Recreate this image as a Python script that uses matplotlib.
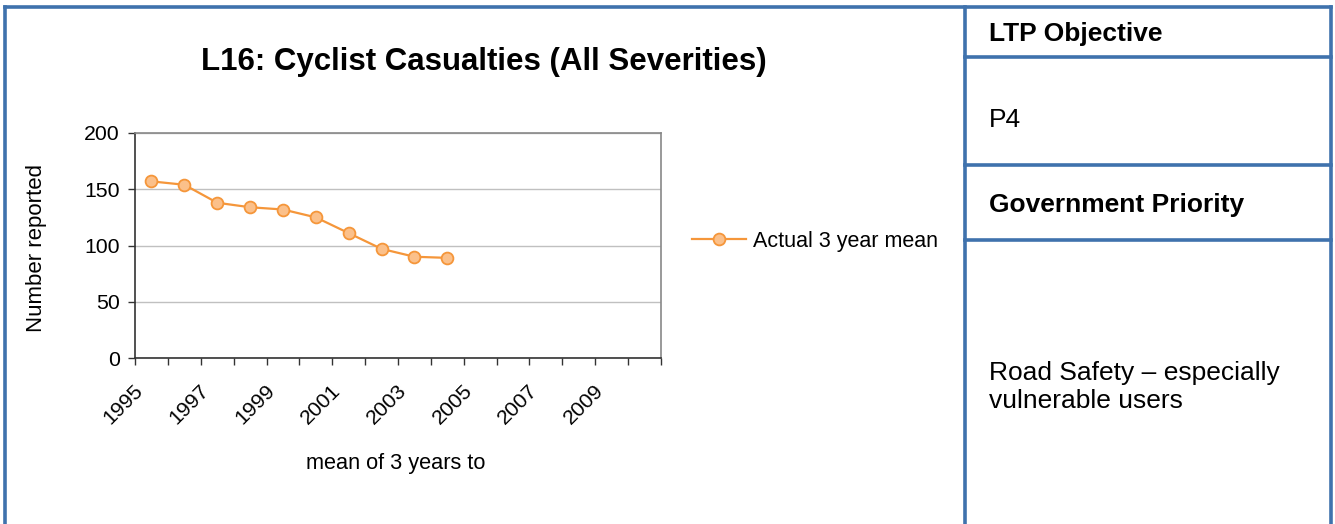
import numpy as np
import matplotlib
matplotlib.use("Agg")
import matplotlib.pyplot as plt
from matplotlib.lines import Line2D
from matplotlib.transforms import ScaledTranslation

plt.rcParams['font.family'] = ['Liberation Sans', 'DejaVu Sans']

# categories on the x axis (mean of 3 years to ...)
years = [str(y) for y in range(1995, 2011)]
label_years = ['1995', '1997', '1999', '2001', '2003', '2005', '2007', '2009']
actual_mean = [157, 154, 138, 134, 132, 125, 111, 97, 90, 89]
y_ticks = [0, 50, 100, 150, 200]

title = "L16: Cyclist Casualties (All Severities)"
ltp_head = "LTP Objective"
ltp_value = "P4"
gov_head = "Government Priority"
gov_value = "Road Safety \u2013 especially\nvulnerable users"

W, H = 1335, 524
BLUE = '#3f72ad'
ORANGE = '#f5963a'
ORANGE_FILL = '#fbc08a'
FS = 15.3


def fx(px):
    return px / W


def fy(py):
    return 1 - py / H


fig = plt.figure(figsize=(W / 100, H / 100), dpi=100)

# frame lines of the table layout
for (x0, y0, x1, y1) in [(5, 7, 1331, 7), (5, 7, 5, 524), (1331, 7, 1331, 524),
                         (965, 7, 965, 524), (965, 57, 1331, 57),
                         (965, 165, 1331, 165), (965, 240, 1331, 240)]:
    fig.add_artist(Line2D([fx(x0), fx(x1)], [fy(y0), fy(y1)], color=BLUE, lw=2.6,
                          solid_capstyle='projecting'))

fig.text(fx(484), fy(62), title, ha='center', va='center', fontsize=22.5, fontweight='bold')

ax = fig.add_axes([fx(135), fy(358), fx(661 - 135), (358 - 133) / H])
idx = np.arange(len(actual_mean)) + 0.5
ax.plot(idx, actual_mean, color=ORANGE, lw=1.6, marker='o', markersize=8.5,
        markerfacecolor=ORANGE_FILL, markeredgecolor=ORANGE, markeredgewidth=1.3,
        label='Actual 3 year mean')

ax.set_xlim(0, len(years))
ax.set_ylim(0, 200)
ax.set_yticks(y_ticks)
ax.set_yticklabels([str(v) for v in y_ticks], fontsize=FS)
ax.yaxis.grid(True, color='#c0c0c0', lw=1)
ax.set_axisbelow(True)

ax.set_xticks(np.arange(len(years) + 1))
ax.set_xticklabels([])
ax.set_xticks([years.index(y) + 0.5 for y in label_years], minor=True)
ax.set_xticklabels(label_years, minor=True, rotation=45, ha='right', va='center',
                   rotation_mode='anchor', fontsize=FS)
ax.tick_params(axis='x', which='major', length=5, width=1, color='#333333', direction='out')
ax.tick_params(axis='x', which='minor', length=0, pad=21)
ax.tick_params(axis='y', length=5, width=1, color='#333333', pad=6)
# nudge the rotated year labels left (after tick_params, which resets transforms)
shift = ScaledTranslation(-11 / 100, 0, fig.dpi_scale_trans)
for lbl in ax.get_xticklabels(minor=True):
    lbl.set_transform(lbl.get_transform() + shift)
for s in ['left', 'bottom']:
    ax.spines[s].set_color('#333333')
    ax.spines[s].set_linewidth(1.2)
for s in ['top', 'right']:
    ax.spines[s].set_color('#888888')
    ax.spines[s].set_linewidth(1.2)

fig.text(fx(37), fy(248), 'Number reported', rotation=90, ha='center', va='center', fontsize=16)
fig.text(fx(396), fy(464), 'mean of 3 years to', ha='center', va='center', fontsize=15.7)

ax.legend(loc='center left', bbox_to_anchor=(fx(673), fy(241)), bbox_transform=fig.transFigure,
          frameon=False, fontsize=15.5, handlelength=2.5, handletextpad=0.33)

fig.text(fx(989), fy(34), ltp_head, ha='left', va='center', fontsize=19, fontweight='bold')
fig.text(fx(989), fy(120), ltp_value, ha='left', va='center', fontsize=19)
fig.text(fx(989), fy(205), gov_head, ha='left', va='center', fontsize=19, fontweight='bold')
fig.text(fx(989), fy(387), gov_value, ha='left', va='center', fontsize=19, linespacing=1.25)

fig.savefig('out.png', dpi=100, facecolor='white')
